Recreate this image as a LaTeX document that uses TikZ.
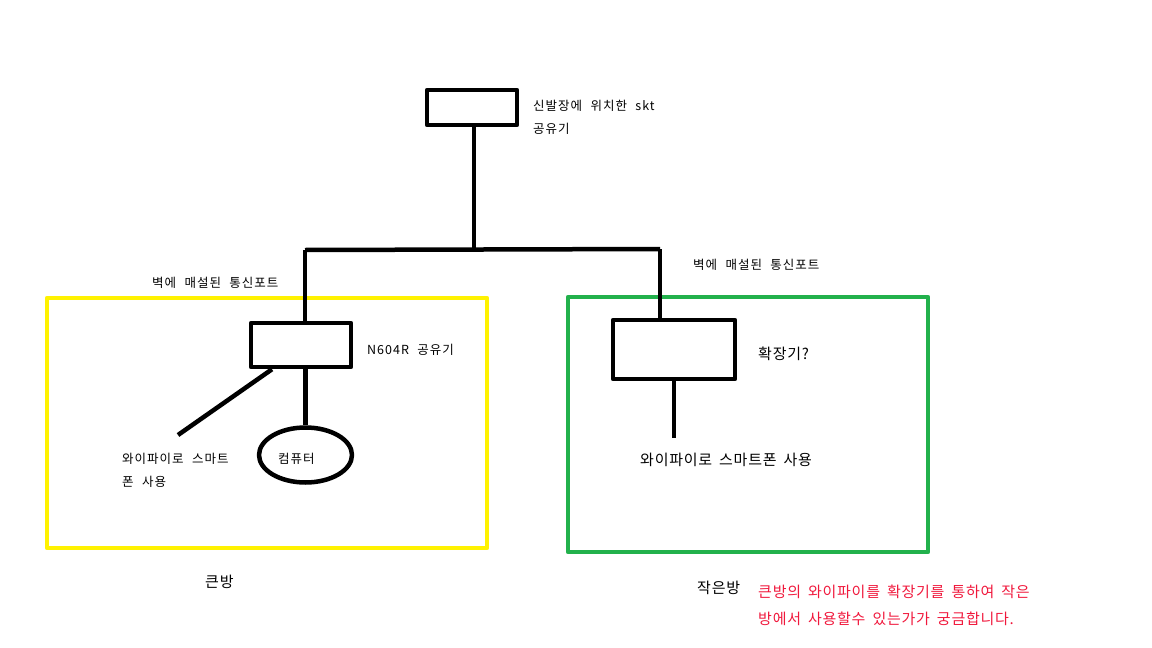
\documentclass[tikz,border=0pt]{standalone}
\usepackage{fontspec}
\setmainfont{Noto Sans CJK KR}
\newfontfamily\krsmall[LetterSpace=8, WordSpace=2.2]{Noto Sans CJK KR}
\newfontfamily\krbig[LetterSpace=5, WordSpace=1.7]{Noto Sans CJK KR}
\usetikzlibrary{shapes.geometric}
\definecolor{paintyellow}{RGB}{255,242,0}
\definecolor{paintgreen}{RGB}{34,177,76}
\definecolor{paintred}{RGB}{240,24,60}
\tikzset{
	wire/.style={line width=4.5pt},
	devbox/.style={draw, wire, rectangle, inner sep=0pt},
	roombox/.style={line width=4.5pt},
	small/.style={font=\krsmall\fontsize{12.5}{23}\selectfont, anchor=west, align=left, inner sep=0pt},
	big/.style={font=\krbig\fontsize{15}{27}\selectfont, anchor=west, align=left, inner sep=0pt}
}
\begin{document}
\begin{tikzpicture}[x=1pt, y=-1pt, line join=round]
	\useasboundingbox (0,0) rectangle (1152,648);
	%% Khai bao diem
	\path 
	(305,250) coordinate (bL)
	(660,249) coordinate (bR)
	(178,435) coordinate (wifi)
	(674,438) coordinate (extend)
	;
	%% rooms
	\draw[roombox, paintyellow] (47,298) rectangle (487,548);
	\draw[roombox, paintgreen] (568,297) rectangle (928,552);
	%% devices
	\node[devbox, minimum width=90pt, minimum height=35pt] (skt) at (472,107.5) {};
	\node[devbox, minimum width=100pt, minimum height=44pt] (n604) at (301,345) {};
	\node[devbox, minimum width=122pt, minimum height=59pt] (ext) at (674,349.5) {};
	\node[draw, wire, ellipse, minimum width=93pt, minimum height=55pt, inner sep=0pt] (pc) at (305.5,455) {};
	%% wires
	\draw[wire] (bL) -- (bR);
	\draw[wire] ([xshift=2pt]skt.south) -- ([xshift=2pt]skt.south |- bL);
	\draw[wire] (bL) -- (bL |- n604.north);
	\draw[wire] (bR) -- (bR |- ext.north);
	\draw[wire] ([xshift=-29pt]n604.south) -- (wifi);
	\draw[wire] (pc.north |- n604.south) -- (pc.north);
	\draw[wire] (ext.south) -- (extend);
	%% labels
	\node[small] (sktlbl) at (533,117.5) {신발장에 위치한 skt\\공유기};
	\node[small] (portL) at (152,283) {벽에 매설된 통신포트};
	\node[small] (portR) at (693,265) {벽에 매설된 통신포트};
	\node[small] (n604lbl) at (367,350) {N604R 공유기};
	\node[small] (pclbl) at (278,459) {컴퓨터};
	\node[small] (wifiL) at (122,470.5) {와이파이로 스마트\\폰 사용};
	\node[big] (extlbl) at (758,354) {확장기?};
	\node[big] (wifiR) at (640,460) {와이파이로 스마트폰 사용};
	\node[big] (bigroom) at (205,582) {큰방};
	\node[big] (smallroom) at (697,588) {작은방};
	\node[big, text=paintred] (question) at (758,605.5) {큰방의 와이파이를 확장기를 통하여 작은\\방에서 사용할수 있는가가 궁금합니다.};
\end{tikzpicture}
\end{document}
